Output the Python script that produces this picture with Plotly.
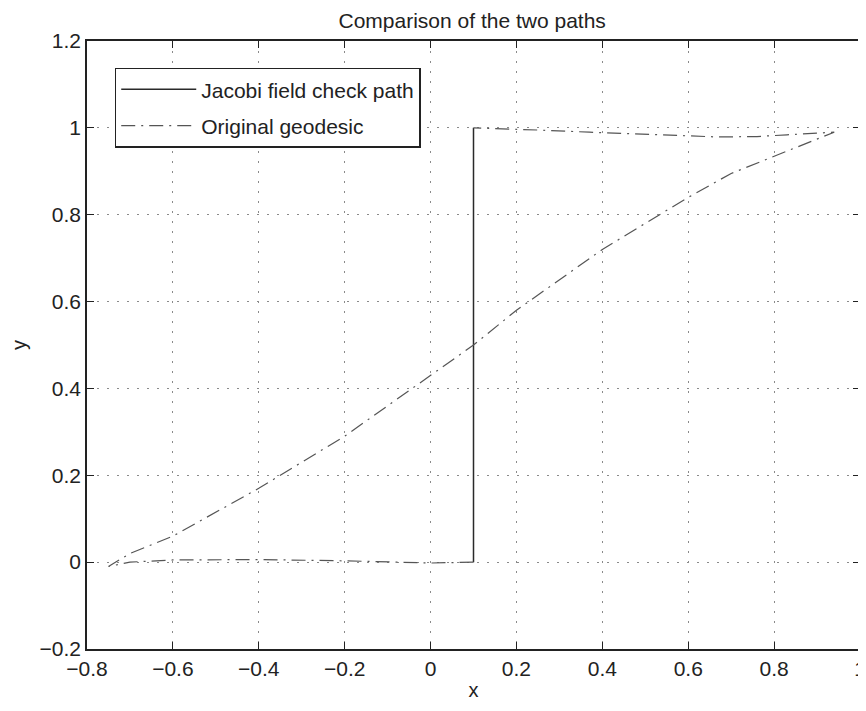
import plotly.graph_objects as go

# Jacobi field check path (solid)
jacobi_x = [0.1, 0.1]
jacobi_y = [0.0, 1.0]

# Original geodesic (dash-dot): bottom leg, S-curve, top leg
geo_bottom_x = [0.1, 0.0, -0.2, -0.4, -0.6, -0.7, -0.75]
geo_bottom_y = [0.0, -0.002, 0.003, 0.006, 0.005, 0.0, -0.01]
geo_curve_x = [-0.7, -0.6, -0.5, -0.4, -0.3, -0.2, -0.1, 0.0, 0.1, 0.2, 0.3, 0.4, 0.5, 0.6, 0.7, 0.8, 0.9, 0.94]
geo_curve_y = [0.02, 0.06, 0.115, 0.17, 0.23, 0.29, 0.36, 0.43, 0.5, 0.58, 0.65, 0.72, 0.78, 0.84, 0.895, 0.935, 0.975, 0.99]
geo_top_x = [0.83, 0.76, 0.67, 0.58, 0.51, 0.44, 0.37, 0.25, 0.18, 0.1]
geo_top_y = [0.984, 0.98, 0.979, 0.982, 0.984, 0.987, 0.99, 0.995, 0.998, 1.0]

geo_x = geo_bottom_x + geo_curve_x + geo_top_x
geo_y = geo_bottom_y + geo_curve_y + geo_top_y

x_ticks = [-0.8, -0.6, -0.4, -0.2, 0, 0.2, 0.4, 0.6, 0.8, 1]
y_ticks = [-0.2, 0, 0.2, 0.4, 0.6, 0.8, 1, 1.2]


def fmt(v):
    return ("−" + f"{abs(v):g}") if v < 0 else f"{v:g}"


fig = go.Figure()
fig.add_trace(go.Scatter(x=jacobi_x, y=jacobi_y, mode="lines",
                         name="Jacobi field check path", legendgroup="a",
                         line=dict(color="#2a2a2a", width=1.5)))
fig.add_trace(go.Scatter(x=geo_x, y=geo_y, mode="lines",
                         name="Original geodesic", legendgroup="b",
                         line=dict(color="#555555", width=1.2, dash="14px,6px,2px,6px")))

font = "Liberation Sans, Arial, Helvetica, sans-serif"
axis_common = dict(showline=True, linecolor="#222222", linewidth=1.6, mirror="ticks",
                   ticks="inside", ticklen=7, tickcolor="#222222", tickwidth=1.4,
                   showgrid=True, gridcolor="#8a8a8a", griddash="2px,8px", gridwidth=1,
                   zeroline=False, automargin=False,
                   tickfont=dict(size=21, color="#222222", family=font))

fig.update_xaxes(range=[-0.8, 1], tickvals=x_ticks, ticktext=[fmt(v) for v in x_ticks],
                 title=dict(text="x", font=dict(size=20, color="#222222", family=font), standoff=4),
                 **axis_common)
fig.update_yaxes(range=[-0.2, 1.2], tickvals=y_ticks, ticktext=[fmt(v) for v in y_ticks],
                 title=dict(text="y", font=dict(size=20, color="#222222", family=font), standoff=8),
                 **axis_common)

# page body has an 8px margin, so the figure is sized/placed to compensate
fig.update_layout(
    width=858, height=703,
    margin=dict(l=79, r=6, t=33, b=62),
    paper_bgcolor="white", plot_bgcolor="white",
    title=dict(text="Comparison of the two paths", x=0.541, xanchor="center",
               y=0.982, yanchor="middle",
               font=dict(size=21, color="#222222", family=font)),
    legend=dict(x=0.036, y=0.956, xanchor="left", yanchor="top",
                bgcolor="white", bordercolor="#222222", borderwidth=1.4,
                font=dict(size=21, color="#222222", family=font),
                itemwidth=75, tracegroupgap=6),
    showlegend=True,
)

fig.write_html("out.html")
